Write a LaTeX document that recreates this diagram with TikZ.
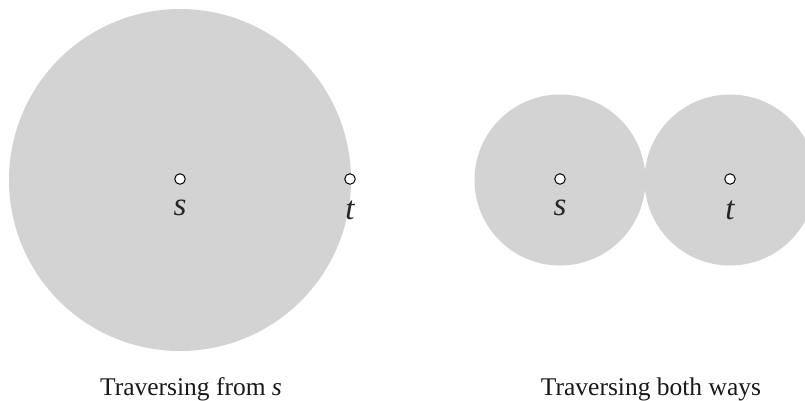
\documentclass[tikz,border=0pt]{standalone}
\usepackage{fontspec}
\setmainfont{Liberation Serif}
\begin{document}
\begin{tikzpicture}[x=1pt,y=-1pt,
  region/.style={fill={rgb,255:red,211;green,211;blue,211}, draw=none},
  vertex/.style={circle, draw=black, fill=white, line width=1pt, minimum size=10.5pt, inner sep=0pt},
  vlabel/.style={font=\fontsize{33}{36}\selectfont\itshape, text=black!85, inner sep=0pt},
  caption/.style={font=\fontsize{25.5}{28}\selectfont, text=black!90, inner sep=0pt}]
\useasboundingbox (0,0) rectangle (805,400);
\clip (0,0) rectangle (805,400);
\fill[region] (180,180) circle (171);
\fill[region] (560,180) circle (85.5);
\fill[region] (730,180) circle (85.5);
\node[vertex] (s1) at (180,179) {};
\node[vertex] (t1) at (350,179) {};
\node[vertex] (s2) at (560,179) {};
\node[vertex] (t2) at (730,179) {};
\node[vlabel, anchor=base] (ls1) at (180,215) {s};
\node[vlabel, anchor=base] (lt1) at (350,219) {t};
\node[vlabel, anchor=base] (ls2) at (560,215) {s};
\node[vlabel, anchor=base] (lt2) at (730,219) {t};
\node[caption, anchor=base] (c1) at (191,395) {Traversing from \textit{s}};
\node[caption, anchor=base] (c2) at (651,395) {Traversing both ways};
\end{tikzpicture}
\end{document}
